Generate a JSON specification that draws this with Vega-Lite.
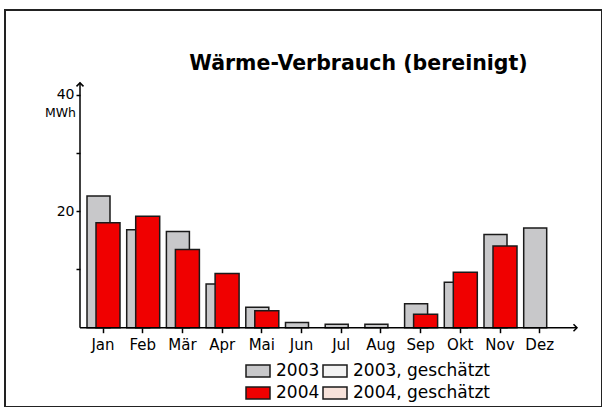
{
  "$schema": "https://vega.github.io/schema/vega-lite/v6.json",
  "width": 597,
  "height": 397,
  "autosize": {"type": "none"},
  "padding": {"left": 5, "top": 10, "right": 0, "bottom": 0},
  "background": "white",
  "title": {"text": "Wärme-Verbrauch (bereinigt)", "font": "DejaVu Sans", "fontSize": 20.5, "fontWeight": "bold", "color": "black", "anchor": "middle", "frame": "group", "orient": "top", "offset": -80, "dx": 55, "baseline": "alphabetic"},
  "config": {"view": {"stroke": "#222222", "strokeWidth": 2}},
  "data": {"values": [
    {"month": "Jan", "year": "2003", "value": 22.6},
    {"month": "Feb", "year": "2003", "value": 16.8},
    {"month": "Mär", "year": "2003", "value": 16.5},
    {"month": "Apr", "year": "2003", "value": 7.5},
    {"month": "Mai", "year": "2003", "value": 3.5},
    {"month": "Jun", "year": "2003", "value": 0.9},
    {"month": "Jul", "year": "2003", "value": 0.6},
    {"month": "Aug", "year": "2003", "value": 0.6},
    {"month": "Sep", "year": "2003", "value": 4.1},
    {"month": "Okt", "year": "2003", "value": 7.8},
    {"month": "Nov", "year": "2003", "value": 16.0},
    {"month": "Dez", "year": "2003", "value": 17.1},
    {"month": "Jan", "year": "2004", "value": 18.0},
    {"month": "Feb", "year": "2004", "value": 19.1},
    {"month": "Mär", "year": "2004", "value": 13.4},
    {"month": "Apr", "year": "2004", "value": 9.3},
    {"month": "Mai", "year": "2004", "value": 2.9},
    {"month": "Sep", "year": "2004", "value": 2.3},
    {"month": "Okt", "year": "2004", "value": 9.5},
    {"month": "Nov", "year": "2004", "value": 14.0}
  ]},
  "layer": [
    {
      "transform": [{"filter": "datum.year == '2003'"}],
      "mark": {"type": "bar", "width": 23, "xOffset": -4.5, "stroke": "#1a1a1a", "strokeWidth": 1.5},
      "encoding": {
        "x": {"field": "month", "type": "nominal",
          "scale": {"domain": ["Jan","Feb","Mär","Apr","Mai","Jun","Jul","Aug","Sep","Okt","Nov","Dez"], "paddingInner": 0, "paddingOuter": 0, "range": [78.15, 554.55]},
          "axis": {"orient": "bottom", "offset": -79.3, "domain": false, "title": null, "tickSize": 5, "tickColor": "black", "tickWidth": 1.5, "labelFont": "DejaVu Sans", "labelFontSize": 15, "labelColor": "black", "labelPadding": 5, "labelAngle": 0, "grid": false}},
        "y": {"field": "value", "type": "quantitative",
          "scale": {"domain": [-13.6, 54.5], "nice": false, "zero": false},
          "axis": {"orient": "left", "offset": -75, "values": [10, 20, 30, 40], "labelExpr": "datum.value == 20 || datum.value == 40 ? datum.label : ''", "domain": false, "grid": false, "tickSize": 4, "tickColor": "black", "tickWidth": 1.5, "labelFont": "DejaVu Sans", "labelFontSize": 14, "labelColor": "black", "labelPadding": 2, "title": "MWh", "titleAngle": 0, "titleX": -20, "titleY": 102, "titleAlign": "center", "titleBaseline": "middle", "titleFont": "DejaVu Sans", "titleFontSize": 12.5, "titleFontWeight": "normal", "titleColor": "black"}},
        "y2": {"datum": 0},
        "color": {"field": "year", "type": "nominal",
          "scale": {"domain": ["2003", "2004", "2003, geschätzt", "2004, geschätzt"], "range": ["#c8c8ca", "#f00000", "#f2f2f2", "#f7e2da"]},
          "legend": {"orient": "none", "legendX": 240, "legendY": 348, "columns": 2, "title": null, "symbolType": "M-1,-0.5H1V0.5H-1Z", "symbolSize": 576, "symbolStrokeColor": "black", "symbolStrokeWidth": 1.5, "symbolOpacity": 1, "labelFont": "DejaVu Sans", "labelFontSize": 17, "labelColor": "black", "labelOffset": 5, "columnPadding": 0, "rowPadding": -5}}
      }
    },
    {
      "transform": [{"filter": "datum.year == '2004'"}],
      "mark": {"type": "bar", "width": 24, "xOffset": 5, "stroke": "#1a1a1a", "strokeWidth": 1.5},
      "encoding": {
        "x": {"field": "month", "type": "nominal"},
        "y": {"field": "value", "type": "quantitative"},
        "y2": {"datum": 0},
        "color": {"field": "year", "type": "nominal"}
      }
    },
    {
      "data": {"values": [{}]},
      "mark": {"type": "rule", "xOffset": -23, "color": "black", "strokeWidth": 1.5},
      "encoding": {"x": {"datum": "Jan", "type": "nominal"}, "y": {"datum": 0, "type": "quantitative"}, "y2": {"datum": 42}}
    },
    {
      "data": {"values": [{}]},
      "mark": {"type": "rule", "xOffset": -23, "x2Offset": 37.3, "color": "black", "strokeWidth": 1.5},
      "encoding": {"x": {"datum": "Jan", "type": "nominal"}, "x2": {"datum": "Dez"}, "y": {"datum": 0, "type": "quantitative"}}
    },
    {
      "data": {"values": [{}]},
      "mark": {"type": "point", "shape": "M-1,1L0,0L1,1", "size": 49, "filled": false, "stroke": "black", "strokeWidth": 1.5, "xOffset": -23, "opacity": 1},
      "encoding": {"x": {"datum": "Jan", "type": "nominal"}, "y": {"datum": 42, "type": "quantitative"}}
    },
    {
      "data": {"values": [{}]},
      "mark": {"type": "point", "shape": "M-1,-1L0,0L-1,1", "size": 49, "filled": false, "stroke": "black", "strokeWidth": 1.5, "xOffset": 37.3, "opacity": 1},
      "encoding": {"x": {"datum": "Dez", "type": "nominal"}, "y": {"datum": 0, "type": "quantitative"}}
    }
  ]
}
